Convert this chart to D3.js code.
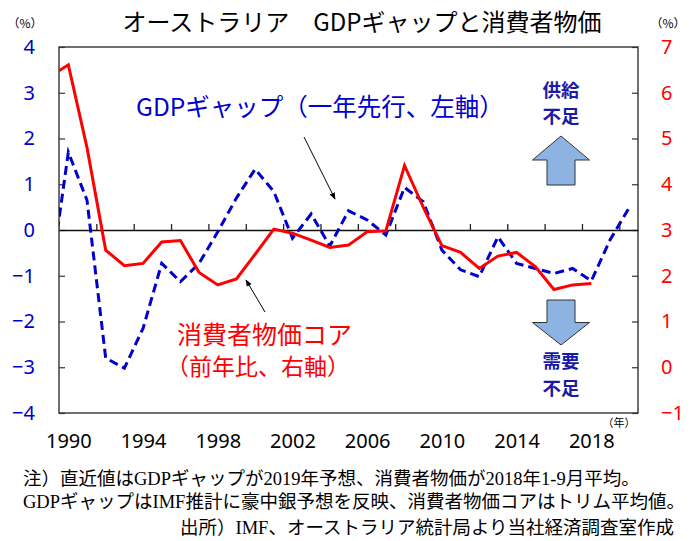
<!DOCTYPE html>
<html>
<head>
<meta charset="utf-8">
<script src="https://cdn.jsdelivr.net/npm/d3@7"></script>
<style>
  body { margin: 0; background: #fff; }
  svg { display: block; font-family: "Noto Sans CJK JP", "Noto Sans", sans-serif; }
  .num { font-family: "Noto Sans", "Noto Sans CJK JP", sans-serif; }
  .note { font-family: "Liberation Serif", "Noto Sans CJK JP", serif; }
</style>
</head>
<body>
<svg id="chart" width="691" height="541"></svg>
<script>
// CPI core (trimmed mean, % y/y), 1989-2018 (2018 = Jan-Sep avg)
const cpiYears = d3.range(1989, 2019);
const cpiValues = [6.35, 6.61, 4.8, 2.56, 2.22, 2.27, 2.74, 2.77, 2.07, 1.80,
                   1.93, 2.47, 3.02, 2.93, 2.78, 2.62, 2.67, 2.96, 2.98, 4.41,
                   3.50, 2.66, 2.51, 2.16, 2.43, 2.51, 2.20, 1.70, 1.80, 1.83];

// GDP gap (%), 1988-2019, drawn one year ahead
const gapYears = d3.range(1988, 2020);
const gapValues = [-1.22, 1.70, 0.65, -2.80, -3.02, -2.15, -0.73, -1.13, -0.73, -0.04,
                   0.70, 1.33, 0.84, -0.18, 0.35, -0.35, 0.42, 0.22, -0.11, 0.93,
                   0.62, -0.44, -0.87, -1.02, -0.15, -0.73, -0.84, -0.95, -0.84, -1.11,
                   -0.22, 0.47];
const gapLead = 1;

const leftTicks = [-4, -3, -2, -1, 0, 1, 2, 3, 4];
const rightTicks = [-1, 0, 1, 2, 3, 4, 5, 6, 7];
const yearLabels = [1990, 1994, 1998, 2002, 2006, 2010, 2014, 2018];
const yearTicks = d3.range(1991.5, 2020, 2);

const BLUE = '#0000cc';
const RED = '#ff0000';

const svg = d3.select('#chart');
const pL = 59, pR = 638, pT = 47, pB = 413;

const x = d3.scaleLinear().domain([1989.5, 2020.5]).range([pL, pR]);
const yL = d3.scaleLinear().domain([-4, 4]).range([pB, pT]);
const yR = d3.scaleLinear().domain([-1, 7]).range([pB, pT]);

const defs = svg.append('defs');
defs.append('clipPath').attr('id', 'plot')
  .append('rect').attr('x', pL).attr('y', pT)
  .attr('width', pR - pL).attr('height', pB - pT);

// frame
svg.append('rect')
  .attr('x', pL).attr('y', pT)
  .attr('width', pR - pL).attr('height', pB - pT)
  .attr('fill', 'none').attr('stroke', '#222').attr('stroke-width', 1.3);

// left axis
const axL = svg.append('g').attr('class', 'num')
  .attr('transform', `translate(${pL},0)`)
  .call(d3.axisLeft(yL).tickValues(leftTicks).tickSizeInner(-6).tickSizeOuter(0).tickPadding(24));
axL.select('.domain').remove();
axL.selectAll('line').attr('stroke', '#333').attr('stroke-width', 1.2);
axL.selectAll('text').attr('fill', BLUE).style('font-size', '20px');

// right axis
const axR = svg.append('g').attr('class', 'num')
  .attr('transform', `translate(${pR},0)`)
  .call(d3.axisRight(yR).tickValues(rightTicks).tickSizeInner(-6).tickSizeOuter(0).tickPadding(23));
axR.select('.domain').remove();
axR.selectAll('line').attr('stroke', '#333').attr('stroke-width', 1.2);
axR.selectAll('text').attr('fill', RED).style('font-size', '20px');

// zero line with year ticks
const axX = svg.append('g')
  .attr('transform', `translate(0,${yL(0)})`)
  .call(d3.axisBottom(x).tickValues(yearTicks).tickSizeInner(-6).tickSizeOuter(0).tickFormat(''));
axX.select('.domain').attr('stroke', '#111').attr('stroke-width', 1.5);
axX.selectAll('line').attr('stroke', '#222').attr('stroke-width', 1.3);

// year labels
const axLab = svg.append('g').attr('class', 'num')
  .attr('transform', `translate(0,${pB + 21})`)
  .call(d3.axisBottom(x).tickValues(yearLabels).tickSize(0).tickPadding(0).tickFormat(d3.format('d')));
axLab.select('.domain').remove();
axLab.selectAll('text').attr('fill', '#000').style('font-size', '20px');

svg.append('text').attr('x', 619).attr('y', 427).attr('text-anchor', 'middle')
  .style('font-size', '11px').text('（年）');
svg.append('text').attr('x', 25).attr('y', 28).attr('text-anchor', 'middle')
  .style('font-size', '12px').text('（%）');
svg.append('text').attr('x', 668).attr('y', 28).attr('text-anchor', 'middle')
  .style('font-size', '12px').text('（%）');

// series
const plot = svg.append('g').attr('clip-path', 'url(#plot)');

const gapLine = d3.line().x((d, i) => x(gapYears[i] + gapLead)).y(d => yL(d));
plot.append('path').datum(gapValues)
  .attr('d', gapLine)
  .attr('fill', 'none').attr('stroke', BLUE).attr('stroke-width', 3)
  .attr('stroke-dasharray', '9,5');

const cpiLine = d3.line().x((d, i) => x(cpiYears[i])).y(d => yR(d));
plot.append('path').datum(cpiValues)
  .attr('d', cpiLine)
  .attr('fill', 'none').attr('stroke', RED).attr('stroke-width', 3)
  .attr('stroke-linejoin', 'miter');

// title
svg.append('text').attr('x', 362).attr('y', 31).attr('text-anchor', 'middle')
  .style('font-size', '24px').attr('fill', '#000')
  .text('オーストラリア　GDPギャップと消費者物価');

// series labels
svg.append('text').attr('x', 136).attr('y', 116)
  .style('font-size', '24.5px').attr('fill', BLUE)
  .text('GDPギャップ（一年先行、左軸）');
svg.append('text').attr('x', 177).attr('y', 344)
  .style('font-size', '25px').attr('fill', RED)
  .text('消費者物価コア');
svg.append('text').attr('x', 166).attr('y', 375)
  .style('font-size', '23px').attr('fill', RED)
  .text('（前年比、右軸）');

// pointer arrows
defs.append('marker').attr('id', 'head')
  .attr('viewBox', '0 0 10 10').attr('refX', 9).attr('refY', 5)
  .attr('markerWidth', 7).attr('markerHeight', 7).attr('orient', 'auto')
  .append('path').attr('d', 'M0,1 L10,5 L0,9 Z').attr('fill', '#000');

svg.append('line').attr('x1', 304).attr('y1', 137).attr('x2', 335).attr('y2', 199)
  .attr('stroke', '#000').attr('stroke-width', 1).attr('marker-end', 'url(#head)');
svg.append('line').attr('x1', 265).attr('y1', 312).attr('x2', 246).attr('y2', 280)
  .attr('stroke', '#000').attr('stroke-width', 1).attr('marker-end', 'url(#head)');

// block arrows
const cx = 561;
svg.append('path')
  .attr('d', `M${cx},136 L${cx + 28.5},160 L${cx + 14},160 L${cx + 14},185 L${cx - 14},185 L${cx - 14},160 L${cx - 28.5},160 Z`)
  .attr('fill', '#8db3e2').attr('stroke', '#333').attr('stroke-width', 1);
svg.append('path')
  .attr('d', `M${cx},345 L${cx + 28.5},322.5 L${cx + 14},322.5 L${cx + 14},300 L${cx - 14},300 L${cx - 14},322.5 L${cx - 28.5},322.5 Z`)
  .attr('fill', '#8db3e2').attr('stroke', '#333').attr('stroke-width', 1);

const tag = (txt, yy) => svg.append('text').attr('x', cx).attr('y', yy)
  .attr('text-anchor', 'middle').style('font-size', '18.5px').style('font-weight', 'bold')
  .attr('fill', '#1a1aaa').text(txt);
tag('供給', 97);
tag('不足', 123);
tag('需要', 368);
tag('不足', 395);

// notes
const note = (txt, xx, yy) => svg.append('text').attr('class', 'note')
  .attr('x', xx).attr('y', yy).style('font-size', '18.5px').attr('fill', '#000').text(txt);
note('注）直近値はGDPギャップが2019年予想、消費者物価が2018年1-9月平均。', 23, 485);
note('GDPギャップはIMF推計に豪中銀予想を反映、消費者物価コアはトリム平均値。', 23, 508);
note('出所）IMF、オーストラリア統計局より当社経済調査室作成', 180, 534);
</script>
</body>
</html>
